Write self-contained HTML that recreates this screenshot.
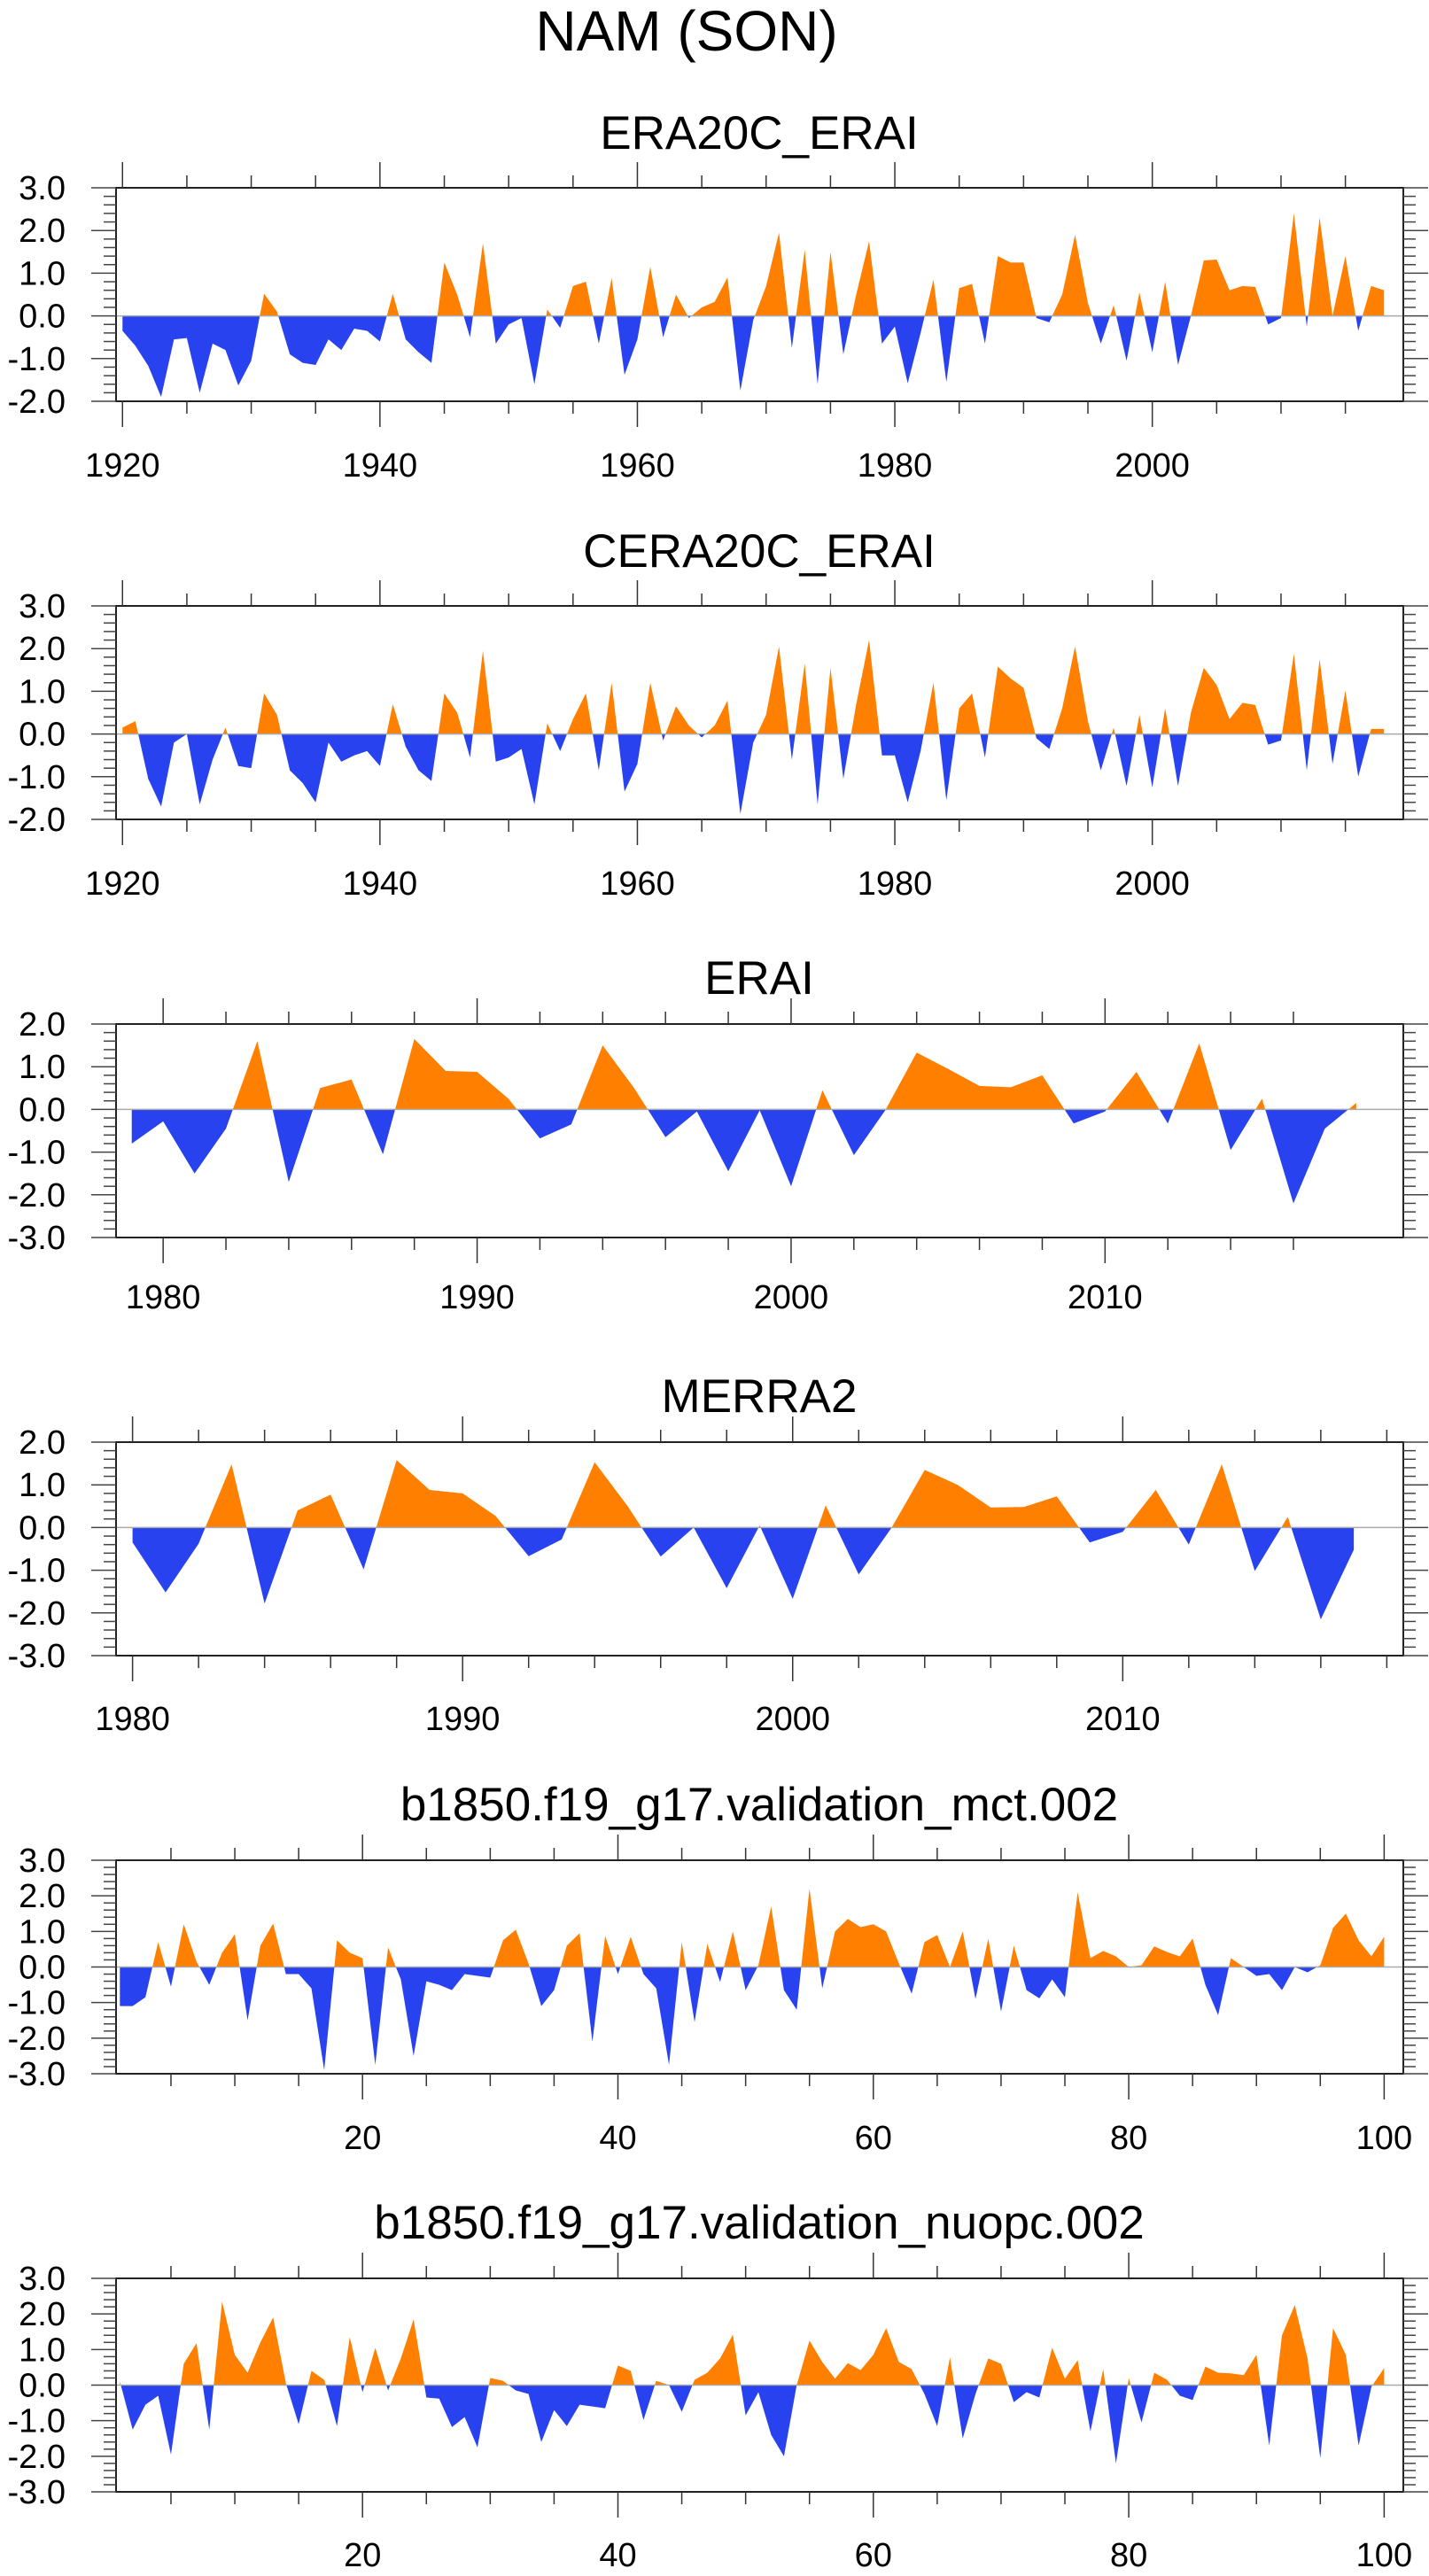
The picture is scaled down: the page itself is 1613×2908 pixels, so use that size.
<!DOCTYPE html>
<html><head><meta charset="utf-8"><title>NAM (SON)</title>
<style>
html,body{margin:0;padding:0;background:#fff;}
svg{display:block;font-family:"Liberation Sans",Arial,sans-serif;}
</style></head>
<body>
<svg id="chart" width="1613" height="2908" viewBox="0 0 1613 2908" xmlns="http://www.w3.org/2000/svg">
<rect width="1613" height="2908" fill="#fff"/>
<text x="775" y="57" font-size="64" text-anchor="middle" fill="#000">NAM (SON)</text>
</svg>
<script>
// ---- data ----
const era20cYears = [1920, 2018];
const era20cValues = [-0.35,-0.7,-1.17,-1.9,-0.55,-0.52,-1.8,-0.65,-0.8,-1.63,-1.05,0.52,0.1,-0.9,-1.1,-1.15,-0.55,-0.8,-0.3,-0.35,
-0.6,0.52,-0.55,-0.85,-1.1,1.25,0.5,-0.5,1.7,-0.65,-0.2,-0.05,-1.6,0.15,-0.28,0.7,0.8,-0.65,0.88,-1.38,
-0.55,1.15,-0.5,0.5,-0.05,0.2,0.33,0.9,-1.75,-0.1,0.7,1.95,-0.75,1.55,-1.6,1.5,-0.9,0.5,1.75,-0.65,
-0.25,-1.58,-0.4,0.85,-1.55,0.65,0.75,-0.65,1.4,1.25,1.25,-0.05,-0.15,0.5,1.9,0.3,-0.65,0.25,-1.05,0.55,
-0.85,0.8,-1.15,0.0,1.3,1.32,0.6,0.7,0.68,-0.2,-0.05,2.4,-0.25,2.3,0.0,1.4,-0.35,0.7,0.6];
const cera20cYears = [1920, 2018];
const cera20cValues = [0.15,0.3,-1.05,-1.7,-0.2,0.0,-1.65,-0.6,0.15,-0.75,-0.8,0.95,0.45,-0.85,-1.15,-1.6,-0.2,-0.65,-0.5,-0.4,
-0.75,0.7,-0.3,-0.85,-1.1,0.95,0.5,-0.55,1.95,-0.65,-0.55,-0.35,-1.65,0.25,-0.4,0.35,0.95,-0.85,1.2,-1.35,
-0.7,1.2,-0.15,0.65,0.2,-0.08,0.2,0.78,-1.87,-0.2,0.45,2.05,-0.6,1.65,-1.65,1.55,-1.05,0.7,2.2,-0.5,
-0.5,-1.6,-0.4,1.2,-1.55,0.6,0.95,-0.55,1.58,1.3,1.08,-0.1,-0.35,0.6,2.05,0.3,-0.85,0.15,-1.22,0.45,
-1.25,0.6,-1.22,0.5,1.55,1.15,0.35,0.73,0.68,-0.25,-0.15,1.88,-0.85,1.75,-0.7,1.02,-1.0,0.12,0.12];
const eraiYears = [1979, 2018];
const eraiValues = [-0.8,-0.28,-1.5,-0.45,1.6,-1.7,0.5,0.7,-1.05,1.65,0.9,0.88,0.25,-0.68,-0.35,1.5,0.5,-0.65,-0.05,-1.45,
-0.02,-1.8,0.45,-1.07,-0.02,1.33,0.95,0.55,0.52,0.8,-0.33,-0.05,0.88,-0.33,1.55,-0.95,0.25,-2.2,-0.45,0.15];
const merra2Years = [1980, 2017];
const merra2Values = [-0.35,-1.52,-0.38,1.48,-1.78,0.4,0.77,-0.98,1.58,0.88,0.8,0.27,-0.67,-0.28,1.53,0.5,-0.68,0.0,-1.42,0.05,
-1.67,0.52,-1.1,0.0,1.35,1.0,0.47,0.48,0.73,-0.35,-0.1,0.88,-0.4,1.48,-1.02,0.25,-2.15,-0.52];
const mctYears = [1, 100];
const mctValues = [-1.1,-1.1,-0.85,0.7,-0.55,1.2,0.15,-0.5,0.4,0.92,-1.5,0.6,1.22,-0.2,-0.2,-0.6,-2.9,0.75,0.4,0.25,
-2.75,0.55,-0.35,-2.5,-0.4,-0.5,-0.65,-0.2,-0.25,-0.3,0.75,1.05,0.1,-1.1,-0.65,0.6,0.95,-2.1,0.87,-0.2,
0.85,-0.2,-0.6,-2.75,0.7,-1.55,0.65,-0.42,1.0,-0.65,0.05,1.7,-0.65,-1.2,2.2,-0.6,1.0,1.35,1.12,1.2,
1.0,0.1,-0.75,0.7,0.9,0.0,1.0,-0.9,0.8,-1.25,0.6,-0.65,-0.88,-0.35,-0.85,2.1,0.25,0.45,0.3,0.0,
0.05,0.58,0.42,0.3,0.8,-0.5,-1.35,0.25,0.0,-0.25,-0.2,-0.65,0.0,-0.15,0.05,1.1,1.5,0.75,0.3,0.85];
const nuopcYears = [1, 100];
const nuopcValues = [0.1,-1.25,-0.55,-0.3,-1.95,0.6,1.18,-1.25,2.35,0.85,0.35,1.2,1.9,0.05,-1.1,0.4,0.15,-1.15,1.35,-0.2,
1.05,-0.15,0.75,1.85,-0.35,-0.38,-1.18,-0.9,-1.75,0.2,0.12,-0.15,-0.25,-1.6,-0.7,-1.15,-0.55,-0.6,-0.65,0.55,
0.4,-0.98,0.12,0.0,-0.75,0.15,0.35,0.75,1.42,-0.85,-0.2,-1.4,-2.0,0.0,1.25,0.65,0.18,0.62,0.42,0.85,
1.6,0.65,0.45,-0.25,-1.15,0.78,-1.5,-0.25,0.75,0.6,-0.48,-0.2,-0.35,1.05,0.18,0.7,-1.3,0.45,-2.2,0.2,
-1.05,0.35,0.15,-0.3,-0.42,0.52,0.35,0.33,0.28,0.85,-1.7,1.4,2.25,0.75,-2.05,1.6,0.85,-1.7,-0.05,0.48];
const decadeLabels = [1920,1940,1960,1980,2000];
const recentLabels = [1980,1990,2000,2010];
const yearIndexLabels = [20,40,60,80,100];
const yTicks3 = [-2,-1,0,1,2,3];
const yTicks2 = [-3,-2,-1,0,1,2];
const yTicksSym = [-3,-2,-1,0,1,2,3];

const NS = "http://www.w3.org/2000/svg";
const svg = document.getElementById('chart');
function mk(tag, attrs, parent){
  const e = document.createElementNS(NS, tag);
  for (const k in attrs) e.setAttribute(k, attrs[k]);
  (parent||svg).appendChild(e);
  return e;
}
const L = 131, R = 1584;

function panel(cfg, idx){
  const g = mk('g', {});
  
  
  const xs = v => L + (v - cfg.xmin) / (cfg.xmax - cfg.xmin) * (R - L);
  const ys = v => cfg.bot - (v - cfg.ymin) / (cfg.ymax - cfg.ymin) * (cfg.bot - cfg.top);
  const t = mk('text', {x: 857, y: cfg.titleY, 'font-size': 53, 'text-anchor': 'middle', fill: '#000'}, g);
  t.textContent = cfg.title;
  
  
  const y0 = ys(0);
  let pts = [];
  cfg.values.forEach((v, i) => { pts.push(xs(cfg.x0 + i).toFixed(2) + ',' + ys(v).toFixed(2)); });
  const first = xs(cfg.x0), last = xs(cfg.x0 + cfg.values.length - 1);
  const d = 'M' + first + ',' + y0 + ' L' + pts.join(' L') + ' L' + last + ',' + y0 + ' Z';
  const cidA = 'ca' + idx, cidB = 'cb' + idx;
  const defs = mk('defs', {}, g);
  const c1 = mk('clipPath', {id: cidA}, defs);
  mk('rect', {x: L, y: cfg.top, width: R - L, height: y0 - cfg.top}, c1);
  const c2 = mk('clipPath', {id: cidB}, defs);
  mk('rect', {x: L, y: y0, width: R - L, height: cfg.bot - y0}, c2);
  const pa = mk('path', {d: d, fill: '#ff8000', 'clip-path': 'url(#' + cidA + ')'}, g);
  
  
  const pb = mk('path', {d: d, fill: '#2742ee', 'clip-path': 'url(#' + cidB + ')'}, g);
  
  
  mk('line', {x1: L, x2: R, y1: y0, y2: y0, stroke: '#aaa', 'stroke-width': 1.5}, g);
  const fr = mk('rect', {x: L, y: cfg.top, width: R - L, height: cfg.bot - cfg.top, fill: 'none', stroke: '#222', 'stroke-width': 2}, g);
  
  
  for (let v = cfg.tickStart; v <= cfg.tickEnd + 1e-6; v += cfg.minor) {
    const x = xs(v);
    const major = Math.abs((v - cfg.majorStart) / cfg.major - Math.round((v - cfg.majorStart) / cfg.major)) < 1e-6;
    const len = major ? 29 : 14;
    mk('line', {x1: x, x2: x, y1: cfg.top, y2: cfg.top - len, stroke: '#333', 'stroke-width': 1.5}, g);
    mk('line', {x1: x, x2: x, y1: cfg.bot, y2: cfg.bot + len, stroke: '#333', 'stroke-width': 1.5}, g);
  }
  cfg.labels.forEach(v => {
    const tl = mk('text', {x: xs(v), y: cfg.labelY, 'font-size': 38, 'text-anchor': 'middle', fill: '#000'}, g);
    tl.textContent = v;
    
    
  });
  for (let k = Math.round(cfg.ymin * 5); k <= Math.round(cfg.ymax * 5); k++) {
    const v = k / 5, y = ys(v);
    const major = k % 5 === 0;
    const len = major ? 28 : 14;
    mk('line', {x1: L, x2: L - len, y1: y, y2: y, stroke: '#444', 'stroke-width': 1.5}, g);
    mk('line', {x1: R, x2: R + len, y1: y, y2: y, stroke: '#444', 'stroke-width': 1.5}, g);
  }
  cfg.yticks.forEach(v => {
    const tl = mk('text', {x: 74, y: ys(v) + 13, 'font-size': 38, 'text-anchor': 'end', fill: '#000'}, g);
    tl.textContent = v.toFixed(1);
    
    
  });
}

const panels = [
 {name:'era20c-erai-panel', title:'ERA20C_ERAI', values: era20cValues, x0: era20cYears[0], top:212, bot:453, ymin:-2, ymax:3, xmin:1919.5, xmax:2019.5, tickStart:1920, tickEnd:2015, minor:5, major:20, majorStart:1920, labels: decadeLabels, labelY:538, titleY:168, yticks: yTicks3},
 {name:'cera20c-erai-panel', title:'CERA20C_ERAI', values: cera20cValues, x0: cera20cYears[0], top:684, bot:925, ymin:-2, ymax:3, xmin:1919.5, xmax:2019.5, tickStart:1920, tickEnd:2015, minor:5, major:20, majorStart:1920, labels: decadeLabels, labelY:1010, titleY:640, yticks: yTicks3},
 {name:'erai-panel', title:'ERAI', values: eraiValues, x0: eraiYears[0], top:1156, bot:1397, ymin:-3, ymax:2, xmin:1978.5, xmax:2019.5, tickStart:1980, tickEnd:2016, minor:2, major:10, majorStart:1980, labels: recentLabels, labelY:1477, titleY:1122, yticks: yTicks2},
 {name:'merra2-panel', title:'MERRA2', values: merra2Values, x0: merra2Years[0], top:1628, bot:1869, ymin:-3, ymax:2, xmin:1979.5, xmax:2018.5, tickStart:1980, tickEnd:2018, minor:2, major:10, majorStart:1980, labels: recentLabels, labelY:1953, titleY:1594, yticks: yTicks2},
 {name:'mct-panel', title:'b1850.f19_g17.validation_mct.002', values: mctValues, x0: mctYears[0], top:2100, bot:2341, ymin:-3, ymax:3, xmin:0.7, xmax:101.5, tickStart:5, tickEnd:100, minor:5, major:20, majorStart:0, labels: yearIndexLabels, labelY:2426, titleY:2055, yticks: yTicksSym},
 {name:'nuopc-panel', title:'b1850.f19_g17.validation_nuopc.002', values: nuopcValues, x0: nuopcYears[0], top:2572, bot:2813, ymin:-3, ymax:3, xmin:0.7, xmax:101.5, tickStart:5, tickEnd:100, minor:5, major:20, majorStart:0, labels: yearIndexLabels, labelY:2897, titleY:2527, yticks: yTicksSym}
];
panels.forEach((p, i) => panel(p, i));
</script>
</body></html>
